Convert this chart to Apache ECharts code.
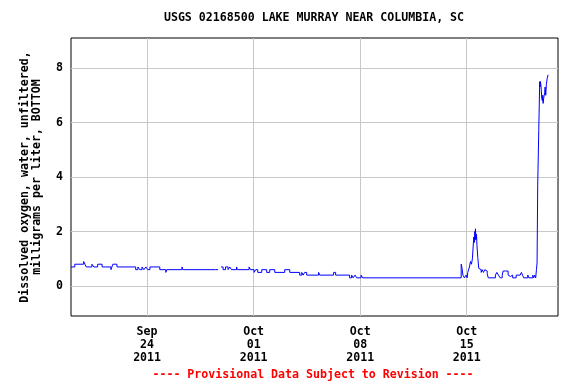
<!DOCTYPE html>
<html>
<head>
<meta charset="utf-8">
<script src="https://cdn.jsdelivr.net/npm/echarts@6/dist/echarts.min.js"></script>
<style>
html,body{margin:0;padding:0;background:#fff;}
#chart{width:576px;height:384px;}
</style>
</head>
<body>
<div id="chart"></div>
<script>
// ---- data ----
var titleText = 'USGS 02168500 LAKE MURRAY NEAR COLUMBIA, SC';
var yAxisTitle = 'Dissolved oxygen, water, unfiltered,\nmilligrams per liter, BOTTOM';
var footerText = '---- Provisional Data Subject to Revision ----';

var xStart = '2011-09-19 00:00';
var xEnd = '2011-10-21 00:00';
var xTickDates = ['2011-09-24 00:00', '2011-10-01 00:00', '2011-10-08 00:00', '2011-10-15 00:00'];
var yTicks = [0, 2, 4, 6, 8];
var yMin = -1.1, yMax = 9.1;

var times = [
  '2011-09-19 00:00','2011-09-19 06:00','2011-09-19 20:00','2011-09-19 22:00','2011-09-20 00:00',
  '2011-09-20 09:00','2011-09-20 12:00','2011-09-20 18:00','2011-09-21 01:00','2011-09-21 15:00',
  '2011-09-21 16:30','2011-09-21 18:00','2011-09-22 00:30','2011-09-23 06:00','2011-09-23 09:30',
  '2011-09-23 12:30','2011-09-23 16:00','2011-09-23 19:00','2011-09-23 22:00','2011-09-24 01:00',
  '2011-09-24 04:30','2011-09-24 20:00','2011-09-25 05:30','2011-09-25 07:00','2011-09-26 07:00',
  '2011-09-26 08:30','2011-09-28 12:00','2011-09-28 16:00',
  '2011-09-28 20:40','2011-09-28 23:50','2011-09-29 03:40','2011-09-29 07:40','2011-09-29 10:20',
  '2011-09-29 13:00','2011-09-29 21:00','2011-09-29 22:30','2011-09-30 16:50','2011-09-30 19:00',
  '2011-10-01 00:40','2011-10-01 03:20','2011-10-01 06:30','2011-10-01 12:50','2011-10-01 20:40',
  '2011-10-02 01:20','2011-10-02 09:20','2011-10-03 01:00','2011-10-03 09:00','2011-10-04 00:40',
  '2011-10-04 03:50','2011-10-04 06:10','2011-10-04 08:30','2011-10-04 11:40','2011-10-05 06:30',
  '2011-10-05 08:10','2011-10-06 06:10','2011-10-06 09:20','2011-10-07 07:20','2011-10-07 10:30',
  '2011-10-07 13:00','2011-10-07 16:00','2011-10-07 18:30','2011-10-08 01:30','2011-10-08 04:00',
  '2011-10-14 15:20','2011-10-14 16:20','2011-10-14 17:00','2011-10-14 18:00','2011-10-14 20:30',
  '2011-10-14 23:10','2011-10-15 00:50','2011-10-15 01:40','2011-10-15 04:20','2011-10-15 06:00',
  '2011-10-15 07:30','2011-10-15 09:00','2011-10-15 11:10','2011-10-15 12:20','2011-10-15 12:50',
  '2011-10-15 13:20','2011-10-15 13:50','2011-10-15 14:40','2011-10-15 15:30','2011-10-15 16:10',
  '2011-10-15 17:30','2011-10-15 19:00','2011-10-15 20:40','2011-10-15 22:50','2011-10-16 00:20',
  '2011-10-16 02:30','2011-10-16 04:30','2011-10-16 06:40','2011-10-16 08:20','2011-10-16 10:00',
  '2011-10-16 21:20','2011-10-16 23:30','2011-10-17 02:00','2011-10-17 04:50','2011-10-17 08:00',
  '2011-10-17 09:30','2011-10-17 13:00','2011-10-17 15:10','2011-10-17 17:20','2011-10-17 19:20',
  '2011-10-17 21:00','2011-10-17 23:00','2011-10-18 00:30','2011-10-18 06:00','2011-10-18 12:20',
  '2011-10-18 14:20','2011-10-18 16:00','2011-10-18 18:00','2011-10-19 00:20','2011-10-19 02:00',
  '2011-10-19 08:10','2011-10-19 09:40','2011-10-19 11:20','2011-10-19 12:50','2011-10-19 14:00',
  '2011-10-19 15:00','2011-10-19 16:00','2011-10-19 17:40','2011-10-19 19:10','2011-10-19 19:40',
  '2011-10-19 20:20','2011-10-19 21:20','2011-10-19 22:20','2011-10-19 23:20','2011-10-19 23:55',
  '2011-10-20 00:30','2011-10-20 01:30','2011-10-20 03:00','2011-10-20 03:40','2011-10-20 04:40',
  '2011-10-20 05:40','2011-10-20 06:50','2011-10-20 08:20'
];
var values = [
  0.7,0.8,0.9,0.8,0.7,
  0.8,0.7,0.8,0.7,0.6,
  0.7,0.8,0.7,0.6,0.7,
  0.6,0.7,0.6,0.7,0.6,
  0.7,0.6,0.5,0.6,0.7,
  0.6,0.6,null,
  0.7,0.6,0.7,0.6,0.7,
  0.6,0.7,0.6,0.7,0.6,
  0.5,0.6,0.5,0.6,0.5,
  0.6,0.5,0.6,0.5,0.4,
  0.5,0.4,0.5,0.4,0.5,
  0.4,0.5,0.4,0.3,0.4,
  0.3,0.4,0.3,0.4,0.3,
  0.8,0.7,0.6,0.4,0.3,
  0.4,0.3,0.5,0.7,0.9,
  0.8,1.0,1.8,1.6,2.0,
  1.7,2.1,1.7,1.9,1.5,
  1.05,0.65,0.6,0.5,0.6,
  0.5,0.6,0.55,0.45,0.3,
  0.4,0.5,0.4,0.3,0.4,
  0.55,0.5,0.55,0.4,0.35,
  0.3,0.4,0.3,0.4,0.45,
  0.5,0.4,0.3,0.4,0.3,
  0.4,0.3,0.4,0.3,0.6,
  0.85,3.7,5.7,7.5,7.3,
  7.5,7.3,6.9,6.8,7.0,
  6.7,6.9,7.1,7.3,7.0,
  7.4,7.6,7.75
];

// ---- helpers ----
function toMs(s) {
  var p = s.split(' '), d = p[0].split('-').map(Number), t = p[1].split(':').map(Number);
  return Date.UTC(d[0], d[1] - 1, d[2], t[0], t[1]);
}
var MONTHS = ['Jan','Feb','Mar','Apr','May','Jun','Jul','Aug','Sep','Oct','Nov','Dec'];
function pad(n) { return (n < 10 ? '0' : '') + n; }

var seriesData = times.map(function (t, i) { return [toMs(t), values[i]]; });
var xTicksMs = xTickDates.map(toMs);

var FONT = 'DejaVu Sans Mono';
var FS = 11.6;
var chart = echarts.init(document.getElementById('chart'), null, {renderer: 'canvas'});
chart.setOption({
  animation: false,
  backgroundColor: '#fff',
  grid: {left: 71, top: 38, right: 18, bottom: 68, show: true, borderColor: '#000', borderWidth: 1, backgroundColor: 'transparent'},
  xAxis: {
    type: 'value',
    min: toMs(xStart),
    max: toMs(xEnd),
    axisLine: {show: false},
    axisTick: {show: false, customValues: xTicksMs},
    splitLine: {show: true, lineStyle: {color: '#c8c8c8', width: 1}},
    axisLabel: {
      customValues: xTicksMs,
      margin: 9,
      color: '#000',
      fontFamily: FONT,
      fontWeight: 'bold',
      fontSize: FS,
      lineHeight: 13,
      formatter: function (v) {
        var d = new Date(v);
        return MONTHS[d.getUTCMonth()] + '\n' + pad(d.getUTCDate()) + '\n' + d.getUTCFullYear();
      }
    }
  },
  yAxis: {
    type: 'value',
    min: yMin,
    max: yMax,
    axisLine: {show: false},
    axisTick: {show: false, customValues: yTicks},
    splitLine: {show: true, lineStyle: {color: '#c8c8c8', width: 1}},
    axisLabel: {
      customValues: yTicks,
      margin: 8,
      color: '#000',
      fontFamily: FONT,
      fontWeight: 'bold',
      fontSize: FS
    }
  },
  series: [{
    type: 'line',
    data: seriesData,
    step: 'end',
    showSymbol: false,
    connectNulls: false,
    lineStyle: {color: '#0000ff', width: 1},
    itemStyle: {color: '#0000ff'}
  }],
  graphic: [
    {type: 'text', x: 314, y: 18, style: {text: titleText, font: 'bold ' + FS + 'px "DejaVu Sans Mono"', fill: '#000', align: 'center', verticalAlign: 'middle'}},
    {type: 'text', x: 31, y: 177, rotation: Math.PI / 2, style: {text: yAxisTitle, font: 'bold ' + FS + 'px "DejaVu Sans Mono"', lineHeight: 12, fill: '#000', align: 'center', verticalAlign: 'middle'}},
    {type: 'text', x: 313, y: 375, style: {text: footerText, font: 'bold ' + FS + 'px "DejaVu Sans Mono"', fill: '#ff0000', align: 'center', verticalAlign: 'middle'}}
  ]
});
</script>
</body>
</html>
